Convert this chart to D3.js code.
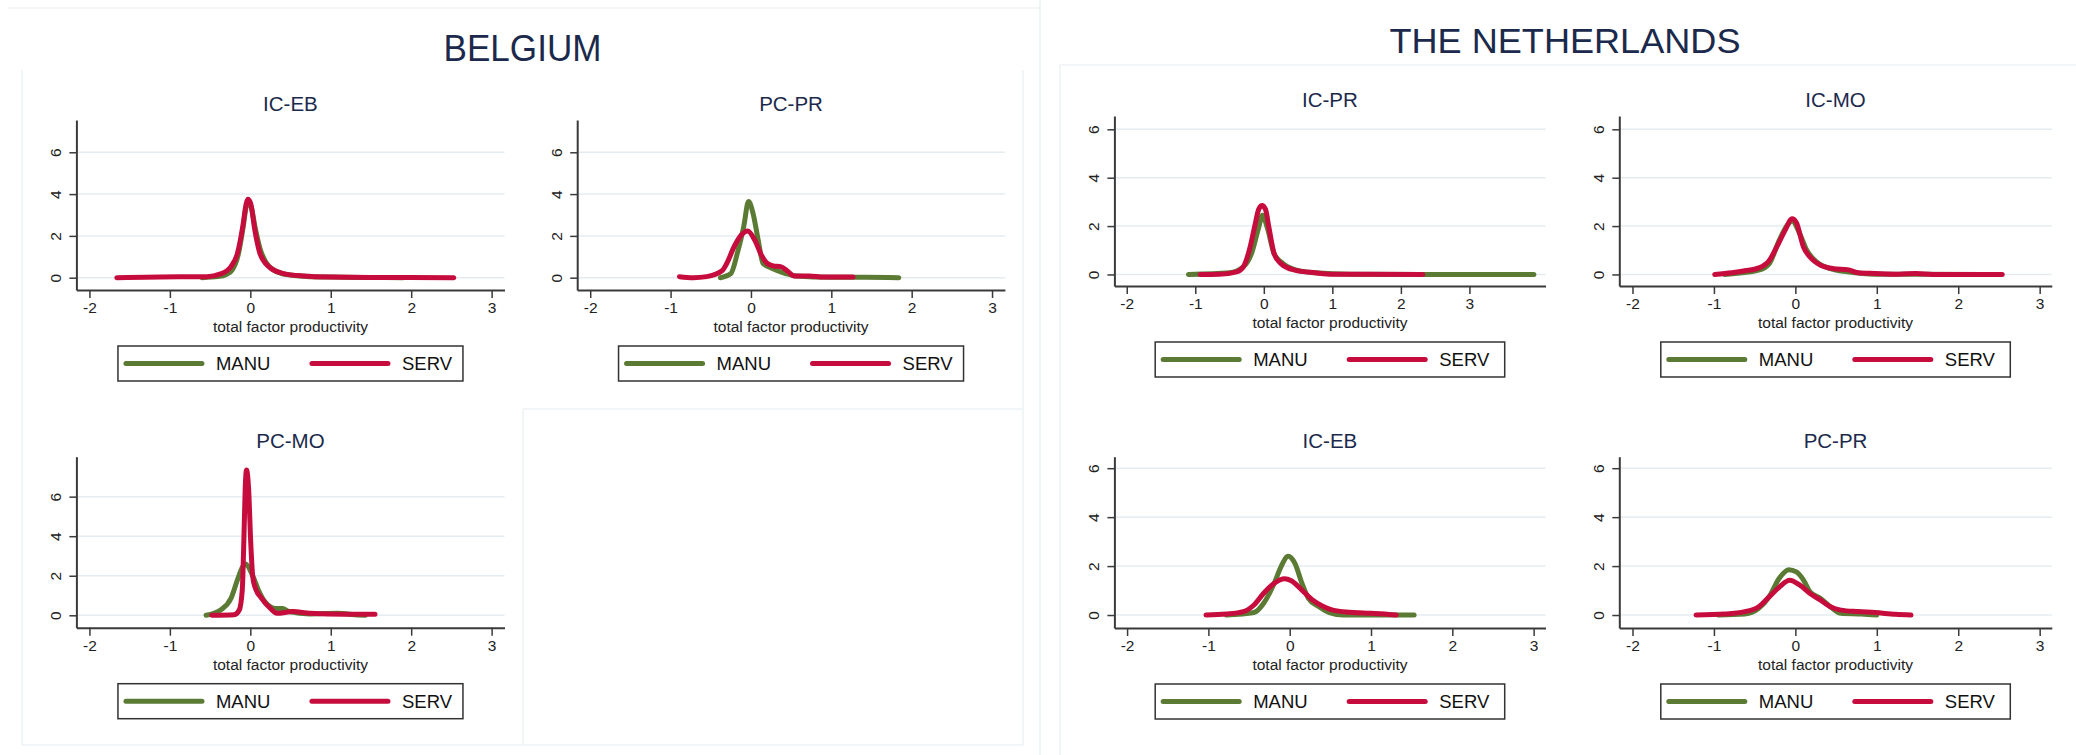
<!DOCTYPE html>
<html>
<head>
<meta charset="utf-8">
<script src="https://cdn.jsdelivr.net/npm/d3@7"></script>
<style>
  body { margin: 0; background: #fff; }
  svg { display: block; font-family: "Liberation Sans", Arial, sans-serif; }
</style>
</head>
<body>
<svg id="chart" width="2076" height="755"></svg>
<script>
// tick values shared by every panel
var xTicks = [-2, -1, 0, 1, 2, 3];
var yTicks = [0, 2, 4, 6];
var seriesNames = ['MANU', 'SERV'];
var seriesColors = ['#5b7b34', '#c60c3d'];
var countries = ['BELGIUM', 'THE NETHERLANDS'];

// kernel density estimates: [tfp, density]
var beIcEbManu = [[-0.6,0],[-0.4,0.05],[-0.3,0.15],[-0.22,0.4],[-0.15,1.1],[-0.09,2.4],[-0.05,3.4],[-0.025,3.6],[0.01,3.4],[0.06,2.4],[0.12,1.4],[0.2,0.7],[0.3,0.35],[0.45,0.15],[0.7,0.06],[1.0,0.03],[1.5,0.01],[1.9,0]];
var beIcEbServ = [[-1.66,0],[-0.89,0.05],[-0.54,0.05],[-0.37,0.18],[-0.24,0.53],[-0.16,1.16],[-0.094,2.44],[-0.05,3.56],[-0.03,3.75],[0.004,3.56],[0.056,2.28],[0.12,1.16],[0.23,0.53],[0.4,0.21],[0.66,0.08],[1.0,0.03],[1.6,0.01],[2.53,0]];

var bePcPrManu = [[-0.38,0],[-0.25,0.2],[-0.17,1.16],[-0.09,2.44],[-0.03,3.64],[0.026,3.08],[0.09,1.8],[0.15,0.69],[0.26,0.45],[0.43,0.2],[0.56,0.08],[0.99,0.02],[1.42,0.02],[1.84,0]];
var bePcPrServ = [[-0.89,0.05],[-0.72,0],[-0.55,0.05],[-0.36,0.33],[-0.3,0.69],[-0.21,1.48],[-0.12,2.04],[-0.04,2.23],[0.047,1.8],[0.13,1.08],[0.2,0.69],[0.28,0.56],[0.37,0.53],[0.45,0.33],[0.54,0.08],[0.73,0.08],[0.9,0.03],[1.27,0.03]];

var bePcMoManu = [[-0.55,0],[-0.37,0.27],[-0.24,0.86],[-0.16,1.79],[-0.094,2.46],[-0.064,2.6],[0.034,1.96],[0.1,1.28],[0.18,0.69],[0.31,0.35],[0.4,0.35],[0.48,0.19],[0.74,0.07],[1.08,0.1],[1.34,0.02],[1.43,0]];
var bePcMoServ = [[-0.48,0],[-0.2,0.03],[-0.137,0.27],[-0.1,1.28],[-0.08,3.8],[-0.064,6.34],[-0.047,7.35],[-0.02,6.3],[0.004,3.8],[0.03,1.96],[0.056,1.45],[0.14,0.86],[0.25,0.35],[0.33,0.1],[0.53,0.19],[0.74,0.1],[1.17,0.05],[1.55,0.05]];

var nlIcPrManu = [[-1.1,0],[-0.5,0.07],[-0.3,0.31],[-0.18,0.86],[-0.075,1.94],[-0.02,2.45],[0.05,1.94],[0.15,0.86],[0.25,0.52],[0.45,0.2],[0.75,0.07],[1.26,0.01],[2.5,0],[3.94,0]];
var nlIcPrServ = [[-0.93,0],[-0.65,0.01],[-0.4,0.11],[-0.3,0.31],[-0.2,1.13],[-0.126,2.08],[-0.075,2.69],[-0.025,2.85],[0.025,2.69],[0.075,1.94],[0.15,0.86],[0.25,0.45],[0.45,0.18],[0.75,0.07],[1.0,0.01],[2.32,0]];

var nlIcMoManu = [[-0.87,0],[-0.45,0.18],[-0.32,0.45],[-0.2,1.4],[-0.09,2.08],[-0.04,2.21],[0.055,1.67],[0.14,1.0],[0.26,0.52],[0.43,0.24],[0.64,0.11],[0.98,0.01],[1.48,0.01],[2.3,0]];
var nlIcMoServ = [[-0.99,0],[-0.78,0.07],[-0.62,0.15],[-0.45,0.27],[-0.32,0.58],[-0.22,1.19],[-0.13,1.8],[-0.04,2.3],[0.013,2.14],[0.1,1.13],[0.18,0.72],[0.31,0.38],[0.47,0.24],[0.64,0.2],[0.77,0.07],[0.98,0.04],[1.27,0.01],[1.48,0.04],[1.69,0],[2.54,0]];

var nlIcEbManu = [[-0.78,0],[-0.44,0.1],[-0.32,0.48],[-0.19,1.3],[-0.106,1.98],[-0.02,2.4],[0.064,2.11],[0.15,1.3],[0.23,0.68],[0.36,0.34],[0.49,0.1],[0.66,0],[1.17,0],[1.53,0]];
var nlIcEbServ = [[-1.03,0],[-0.78,0.04],[-0.57,0.14],[-0.44,0.41],[-0.32,0.89],[-0.19,1.3],[-0.064,1.48],[0.02,1.4],[0.15,1.02],[0.28,0.61],[0.4,0.37],[0.53,0.2],[0.74,0.11],[1.0,0.07],[1.17,0.04],[1.31,0]];

var nlPcPrManu = [[-0.95,0],[-0.62,0.04],[-0.45,0.27],[-0.32,0.75],[-0.2,1.49],[-0.08,1.85],[0.013,1.76],[0.1,1.43],[0.18,0.95],[0.31,0.68],[0.43,0.34],[0.56,0.07],[0.81,0.04],[1.0,0]];
var nlPcPrServ = [[-1.22,0],[-0.87,0.04],[-0.62,0.14],[-0.45,0.34],[-0.32,0.75],[-0.2,1.13],[-0.07,1.42],[0.055,1.22],[0.18,0.88],[0.31,0.61],[0.43,0.34],[0.56,0.2],[0.77,0.14],[0.98,0.1],[1.23,0.03],[1.42,0]];

// plot areas (pixel box of the axes) and the axis ranges Stata used
var panels = [
  { title: 'IC-EB', manu: beIcEbManu, serv: beIcEbServ, box: [76.4, 120, 504.5, 290], xDom: [-2.162, 3.16], yDom: [-0.589, 7.545], legW: 345 },
  { title: 'PC-PR', manu: bePcPrManu, serv: bePcPrServ, box: [577.2, 120, 1004.9, 290], xDom: [-2.162, 3.16], yDom: [-0.589, 7.545], legW: 345 },
  { title: 'PC-MO', manu: bePcMoManu, serv: bePcMoServ, box: [76.4, 456.7, 504.5, 627.7], xDom: [-2.162, 3.16], yDom: [-0.627, 8.02], legW: 345 },
  { title: 'IC-PR', manu: nlIcPrManu, serv: nlIcPrServ, box: [1114.4, 116, 1545.5, 286], xDom: [-2.18, 4.11], yDom: [-0.477, 6.55], legW: 349.5 },
  { title: 'IC-MO', manu: nlIcMoManu, serv: nlIcMoServ, box: [1619.3, 116, 2051.8, 286], xDom: [-2.162, 3.149], yDom: [-0.477, 6.55], legW: 349.5 },
  { title: 'IC-EB', manu: nlIcEbManu, serv: nlIcEbServ, box: [1114.4, 456.7, 1545.5, 628], xDom: [-2.156, 3.146], yDom: [-0.53, 6.47], legW: 349.5 },
  { title: 'PC-PR', manu: nlPcPrManu, serv: nlPcPrServ, box: [1619.3, 456.7, 2051.8, 628], xDom: [-2.162, 3.149], yDom: [-0.53, 6.47], legW: 349.5 }
];

var svg = d3.select('#chart');
var navy = '#1b2a4c';
var faint = '#e6eef1';

// faint graph-region outlines left over from the combined graphs
var frames = [
  [7, 8, 1040, 8], [1040, 0, 1040, 755],
  [22, 70, 22, 745], [22, 745, 1023, 745], [1023, 70, 1023, 745],
  [523, 409, 523, 744], [523, 409, 1022, 409],
  [1060, 65, 2076, 65], [1060, 65, 1060, 755]
];
svg.selectAll('line.frame')
  .data(frames)
  .enter().append('line')
  .attr('class', 'frame')
  .attr('x1', function (d) { return d[0]; })
  .attr('y1', function (d) { return d[1]; })
  .attr('x2', function (d) { return d[2]; })
  .attr('y2', function (d) { return d[3]; })
  .attr('stroke', faint)
  .attr('stroke-width', 1.2);

// country titles
svg.append('text')
  .attr('x', 522.5).attr('y', 61)
  .attr('text-anchor', 'middle')
  .attr('font-size', 37)
  .attr('textLength', 158)
  .attr('lengthAdjust', 'spacingAndGlyphs')
  .attr('fill', navy)
  .text(countries[0]);

svg.append('text')
  .attr('x', 1565).attr('y', 53.3)
  .attr('text-anchor', 'middle')
  .attr('font-size', 35.5)
  .attr('textLength', 351)
  .attr('lengthAdjust', 'spacingAndGlyphs')
  .attr('fill', navy)
  .text(countries[1]);

// Stata prints plain integers with an ascii hyphen
var fmt = function (d) { return String(d); };

panels.forEach(function (p) {
  var l = p.box[0], t = p.box[1], r = p.box[2], b = p.box[3];
  var cx = (l + r) / 2;

  var x = d3.scaleLinear().domain(p.xDom).range([l, r]);
  var y = d3.scaleLinear().domain(p.yDom).range([b, t]);

  var g = svg.append('g');

  //gridlines
  g.selectAll('line.grid')
    .data(yTicks)
    .enter().append('line')
    .attr('class', 'grid')
    .attr('x1', l).attr('x2', r)
    .attr('y1', function (d) { return y(d); })
    .attr('y2', function (d) { return y(d); })
    .attr('stroke', '#e4ecf1')
    .attr('stroke-width', 1.5);

  //x axis
  var xAxis = g.append('g')
    .attr('transform', 'translate(0,' + b + ')')
    .call(d3.axisBottom(x).tickValues(xTicks).tickFormat(fmt).tickSize(8).tickSizeOuter(0).tickPadding(4));

  //y axis
  var yAxis = g.append('g')
    .attr('transform', 'translate(' + l + ',0)')
    .call(d3.axisLeft(y).tickValues(yTicks).tickFormat(fmt).tickSize(7).tickSizeOuter(0));

  [xAxis, yAxis].forEach(function (a) {
    a.select('.domain').attr('stroke', '#3a3a3a').attr('stroke-width', 2);
    a.selectAll('.tick line').attr('stroke', '#3a3a3a').attr('stroke-width', 1.5);
    a.selectAll('.tick text')
      .attr('font-family', '"Liberation Sans", Arial, sans-serif')
      .attr('font-size', 15.5)
      .attr('fill', '#222');
  });

  // rotate the y labels like Stata does
  yAxis.selectAll('.tick text')
    .attr('text-anchor', 'middle')
    .attr('x', 0)
    .attr('y', -20.5)
    .attr('dy', '0.35em')
    .attr('transform', 'rotate(-90)');

  //axis title
  g.append('text')
    .attr('x', cx).attr('y', b + 42)
    .attr('text-anchor', 'middle')
    .attr('font-size', 15.5)
    .attr('fill', '#222')
    .text('total factor productivity');

  //panel title
  g.append('text')
    .attr('x', cx).attr('y', t - 9)
    .attr('text-anchor', 'middle')
    .attr('font-size', 20.5)
    .attr('fill', navy)
    .text(p.title);

  //density lines, manufacturing under services
  var line = d3.line()
    .x(function (d) { return x(d[0]); })
    .y(function (d) { return y(d[1]); })
    .curve(d3.curveMonotoneX);

  [p.manu, p.serv].forEach(function (s, i) {
    g.append('path')
      .attr('d', line(s))
      .attr('fill', 'none')
      .attr('stroke', seriesColors[i])
      .attr('stroke-width', 5)
      .attr('stroke-linecap', 'round')
      .attr('stroke-linejoin', 'round');
  });

  //legend
  var lw = p.legW, lh = 35;
  var lx = cx - lw / 2, ly = b + 56;
  var leg = g.append('g').attr('transform', 'translate(' + lx + ',' + ly + ')');
  leg.append('rect')
    .attr('width', lw).attr('height', lh)
    .attr('fill', '#fff')
    .attr('stroke', '#333')
    .attr('stroke-width', 1.5);

  var item = leg.selectAll('g.item')
    .data(seriesNames)
    .enter().append('g')
    .attr('class', 'item')
    .attr('transform', function (d, i) { return 'translate(' + (8 + i * 186) + ',' + lh / 2 + ')'; });

  item.append('line')
    .attr('x1', 0).attr('x2', 76)
    .attr('stroke', function (d, i) { return seriesColors[i]; })
    .attr('stroke-width', 5)
    .attr('stroke-linecap', 'round');

  item.append('text')
    .attr('x', 90)
    .attr('dy', '0.36em')
    .attr('font-size', 18.5)
    .attr('fill', '#111')
    .text(function (d) { return d; });
});
</script>
</body>
</html>
